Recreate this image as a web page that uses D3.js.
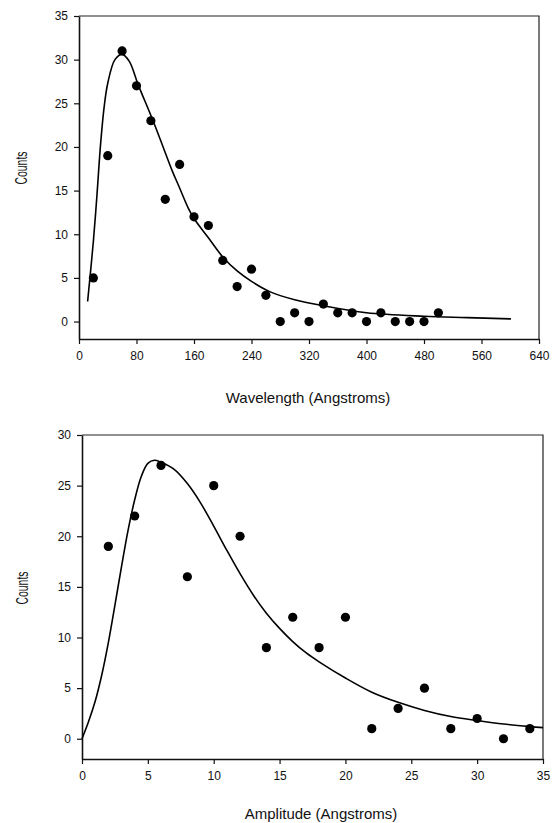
<!DOCTYPE html>
<html>
<head>
<meta charset="utf-8">
<script src="https://cdn.jsdelivr.net/npm/d3@7/dist/d3.min.js"></script>
<style>
  body { margin: 0; background: #fff; }
  svg text { font-family: "Liberation Sans", Arial, sans-serif; fill: #111; }
</style>
</head>
<body>
<script>
// top panel: wavelength histogram
var waveX = [20, 40, 60, 80, 100, 120, 140, 160, 180, 200, 220, 240, 260, 280, 300, 320, 340, 360, 380, 400, 420, 440, 460, 480, 500];
var waveCounts = [5, 19, 31, 27, 23, 14, 18, 12, 11, 7, 4, 6, 3, 0, 1, 0, 2, 1, 1, 0, 1, 0, 0, 0, 1];
// fitted curve
var waveFitX = [12, 20, 25, 30, 35, 40, 50, 60, 70, 82, 103, 117, 130, 140, 152, 160, 180, 200, 220, 240, 266, 300, 340, 400, 480, 540, 601];
var waveFitY = [2.3, 9.2, 14.5, 20.3, 24.6, 27.3, 30, 30.6, 29.8, 27.2, 23, 20, 17.2, 15.3, 13, 11.8, 9.6, 7.4, 5.8, 4.6, 3.4, 2.5, 1.8, 1.0, 0.6, 0.45, 0.3];
var waveTicks = [0, 80, 160, 240, 320, 400, 480, 560, 640];
var countTicksTop = [0, 5, 10, 15, 20, 25, 30, 35];

// bottom panel: amplitude histogram
var ampX = [2, 4, 6, 8, 10, 12, 14, 16, 18, 20, 22, 24, 26, 28, 30, 32, 34];
var ampCounts = [19, 22, 27, 16, 25, 20, 9, 12, 9, 12, 1, 3, 5, 1, 2, 0, 1];
var ampFitX = [0, 0.5, 1, 1.5, 2, 2.5, 3, 3.5, 4, 4.5, 5, 5.5, 6, 7, 8, 9, 10, 11, 12, 13, 14, 15, 16, 17, 18, 20, 22, 24, 26, 28, 30, 32, 34, 35];
var ampFitY = [0, 1.7, 3.7, 6.3, 9.5, 13.2, 17.0, 20.6, 23.6, 25.9, 27.2, 27.5, 27.3, 26.6, 25.2, 23.3, 21, 18.6, 16.3, 14.2, 12.4, 10.9, 9.6, 8.5, 7.6, 6.0, 4.6, 3.6, 2.8, 2.2, 1.8, 1.45, 1.2, 1.1];
var ampTicks = [0, 5, 10, 15, 20, 25, 30, 35];
var countTicksBottom = [0, 5, 10, 15, 20, 25, 30];

var svg = d3.select("body").append("svg")
  .attr("width", 556)
  .attr("height", 823);

function drawPanel(p) {
  var x = d3.scaleLinear().domain(p.xDomain).range([p.left, p.right]);
  var y = d3.scaleLinear().domain(p.yDomain).range([p.bottom, p.top]);
  var g = svg.append("g");

  // frame top and right
  g.append("path")
    .attr("d", "M" + p.left + "," + p.top + "H" + p.right + "V" + p.bottom)
    .attr("fill", "none")
    .attr("stroke", "#222")
    .attr("stroke-width", 1.2);

  var xa = g.append("g")
    .attr("transform", "translate(0," + p.bottom + ")")
    .call(d3.axisBottom(x).tickValues(p.xTicks).tickSize(5).tickPadding(7).tickSizeOuter(0));
  var ya = g.append("g")
    .attr("transform", "translate(" + p.left + ",0)")
    .call(d3.axisLeft(y).tickValues(p.yTicks).tickSize(5).tickPadding(6).tickSizeOuter(0));
  [xa, ya].forEach(function (a) {
    a.attr("font-size", 12).attr("font-family", null);
    a.select(".domain").attr("stroke", "#111").attr("stroke-width", 1.6);
    a.selectAll(".tick line").attr("stroke", "#111").attr("stroke-width", 1.2);
    a.selectAll(".tick text").attr("fill", "#111");
  });

  // fitted curve
  var line = d3.line()
    .x(function (d) { return x(d[0]); })
    .y(function (d) { return y(d[1]); })
    .curve(d3.curveCatmullRom);
  g.append("path")
    .datum(d3.zip(p.fitX, p.fitY))
    .attr("d", line)
    .attr("fill", "none")
    .attr("stroke", "#000")
    .attr("stroke-width", 1.6);

  // data points
  g.selectAll(".dot")
    .data(d3.zip(p.xs, p.ys))
    .enter()
    .append("circle")
    .attr("class", "dot")
    .attr("cx", function (d) { return x(d[0]); })
    .attr("cy", function (d) { return y(d[1]); })
    .attr("r", 4.6)
    .attr("fill", "#000");

  // axis titles
  g.append("text")
    .attr("x", p.xTitleX)
    .attr("y", p.xTitleY)
    .attr("text-anchor", "middle")
    .attr("font-size", 15)
    .text(p.xTitle);
  g.append("text")
    .attr("transform", "translate(" + p.yTitleX + "," + p.yTitleY + ") rotate(-90)")
    .attr("text-anchor", "middle")
    .attr("font-size", 16)
    .attr("textLength", 33)
    .attr("lengthAdjust", "spacingAndGlyphs")
    .text("Counts");
}

drawPanel({
  left: 79, right: 539, top: 16, bottom: 339,
  xDomain: [0, 640], yDomain: [-2, 35],
  xTicks: waveTicks, yTicks: countTicksTop,
  xs: waveX, ys: waveCounts, fitX: waveFitX, fitY: waveFitY,
  xTitle: "Wavelength (Angstroms)", xTitleX: 308, xTitleY: 403,
  yTitleX: 27, yTitleY: 168
});

drawPanel({
  left: 82, right: 543, top: 435, bottom: 759,
  xDomain: [0, 35], yDomain: [-2, 30],
  xTicks: ampTicks, yTicks: countTicksBottom,
  xs: ampX, ys: ampCounts, fitX: ampFitX, fitY: ampFitY,
  xTitle: "Amplitude (Angstroms)", xTitleX: 321, xTitleY: 819,
  yTitleX: 28, yTitleY: 588
});
</script>
</body>
</html>
